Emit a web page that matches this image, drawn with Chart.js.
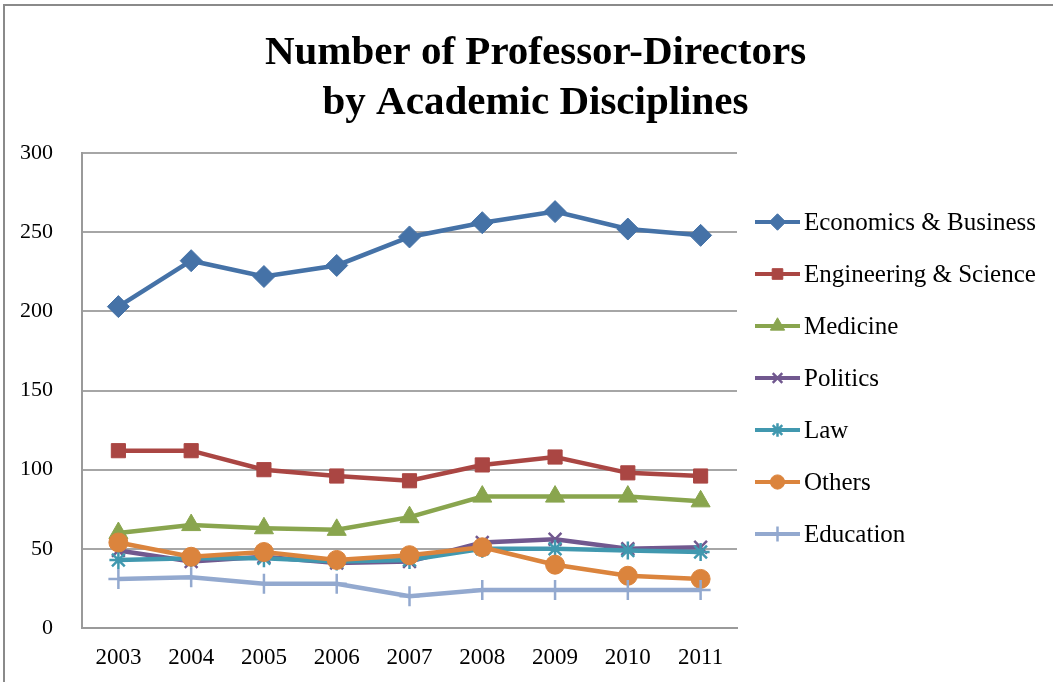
<!DOCTYPE html>
<html>
<head>
<meta charset="utf-8">
<script src="https://cdn.jsdelivr.net/npm/chart.js@4.4.1/dist/chart.umd.min.js"></script>
<style>
  html, body { margin: 0; padding: 0; background: #fff; overflow: hidden; }
  #wrap { position: absolute; left: 0; top: 0; width: 1053px; height: 682px; }
  #frame { position: absolute; left: 3px; top: 4px; width: 1070px; height: 700px;
           border: 2px solid #8a8a8a; pointer-events: none; }
</style>
</head>
<body>
<div id="wrap"><canvas id="chart" width="1053" height="682"></canvas></div>
<div id="frame"></div>
<script>
// --- data ---
const years = ["2003", "2004", "2005", "2006", "2007", "2008", "2009", "2010", "2011"];
const seriesNames = ["Economics & Business", "Engineering & Science", "Medicine", "Politics", "Law", "Others", "Education"];
const economics   = [203, 232, 222, 229, 247, 256, 263, 252, 248];
const engineering = [112, 112, 100, 96, 93, 103, 108, 98, 96];
const medicine    = [60, 65, 63, 62, 70, 83, 83, 83, 80];
const politics    = [49, 42, 45, 41, 42, 54, 56, 50, 51];
const law         = [43, 44, 44, 42, 43, 50, 50, 49, 48];
const others      = [54, 45, 48, 43, 46, 51, 40, 33, 31];
const education   = [31, 32, 28, 28, 20, 24, 24, 24, 24];
const yTicks = [0, 50, 100, 150, 200, 250, 300];

const SERIF = "'Liberation Serif', 'Times New Roman', serif";

// style per series: colour, marker
const STYLES = [
    { color: "#4572a7", point: "rectRot",  radius: 11, bw: 1 },
    { color: "#aa4643", point: "rect",     radius: 10, bw: 1 },
    { color: "#89a54e", point: "triangle", radius: 11, bw: 1 },
    { color: "#71588f", point: "crossRot", radius: 9,  bw: 2.5 },
    { color: "#4198af", point: "star",     radius: 9,  bw: 2.5 },
    { color: "#db843d", point: "circle",   radius: 9.5, bw: 1 },
    { color: "#93a9cf", point: "cross",    radius: 10, bw: 2.5 }
];
const allValues = [economics, engineering, medicine, politics, law, others, education];

const datasets = allValues.map((vals, i) => ({
    label: seriesNames[i],
    data: vals,
    borderColor: STYLES[i].color,
    backgroundColor: STYLES[i].color,
    borderWidth: 4.5,
    tension: 0,
    pointStyle: STYLES[i].point,
    pointRadius: STYLES[i].radius,
    pointBackgroundColor: STYLES[i].color,
    pointBorderColor: STYLES[i].color,
    pointBorderWidth: STYLES[i].bw,
    order: allValues.length - i   // later series on top, like the original
}));

// legend with line + marker, drawn to the right of the plot
const sideLegend = {
    id: "sideLegend",
    afterDraw(chart) {
        const ctx = chart.ctx;
        const x0 = 755, x1 = 800, top = 222, step = 52;
        ctx.save();
        seriesNames.forEach((name, i) => {
            const y = top + i * step;
            const st = STYLES[i];
            ctx.strokeStyle = st.color;
            ctx.lineWidth = 4;
            ctx.beginPath();
            ctx.moveTo(x0, y);
            ctx.lineTo(x1, y);
            ctx.stroke();
            ctx.fillStyle = st.color;
            ctx.strokeStyle = st.color;
            ctx.lineWidth = st.bw;
            Chart.helpers.drawPoint(ctx, { pointStyle: st.point, radius: st.radius * 0.75, borderWidth: st.bw, rotation: 0 }, (x0 + x1) / 2, y);
            ctx.fillStyle = "#000";
            ctx.font = "25px " + SERIF;
            ctx.textAlign = "left";
            ctx.textBaseline = "middle";
            ctx.fillText(name, x1 + 4, y + 1);
        });
        ctx.restore();
    }
};

new Chart(document.getElementById("chart"), {
    type: "line",
    data: { labels: years, datasets: datasets },
    plugins: [sideLegend],
    options: {
        responsive: false,
        animation: false,
        layout: { padding: { left: 18, right: 0, top: 0, bottom: 0 } },
        plugins: {
            legend: { display: false },
            tooltip: { enabled: false },
            title: {
                display: true,
                text: ["Number of Professor-Directors", "by Academic Disciplines"],
                color: "#000",
                font: { family: SERIF, size: 41, weight: "bold", lineHeight: 1.22 },
                padding: { top: 28, bottom: 25 }
            }
        },
        scales: {
            x: {
                offset: true,
                grid: { display: false, drawTicks: false },
                border: { display: true, color: "#9a9a9a", width: 2 },
                afterFit(scale) { scale.height = 54; },
                ticks: { color: "#000", padding: 16, font: { family: SERIF, size: 23 } }
            },
            y: {
                min: 0,
                max: 300,
                afterBuildTicks(scale) { scale.ticks = yTicks.map(v => ({ value: v })); },
                afterFit(scale) { scale.width = 64; },
                grid: { color: "#a6a6a6", lineWidth: 2, drawTicks: false },
                border: { display: true, color: "#9a9a9a", width: 2 },
                ticks: { color: "#000", padding: 29, font: { family: SERIF, size: 22 } }
            },
            // empty right-hand axis: reserves the legend column so the title centres on the whole chart
            side: {
                position: "right",
                min: 0,
                max: 300,
                afterFit(scale) { scale.width = 316; },
                grid: { display: false, drawTicks: false },
                border: { display: false },
                ticks: { display: false }
            }
        }
    }
});
</script>
</body>
</html>
